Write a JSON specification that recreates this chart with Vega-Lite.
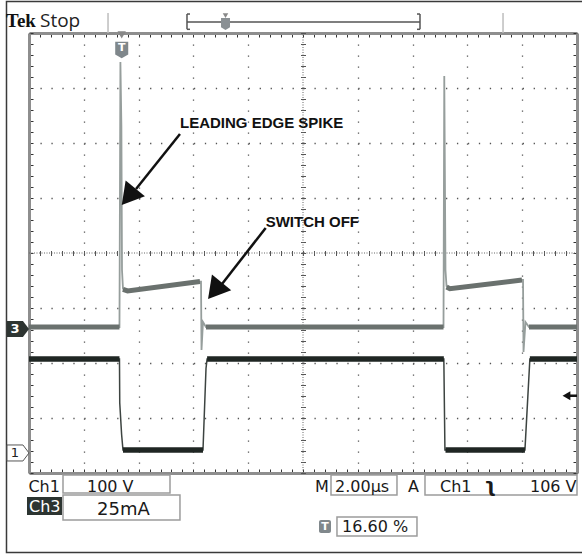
{
 "$schema":"https://vega.github.io/schema/vega-lite/v6.json",
 "width":548,"height":440,
 "autosize":{"type":"none"},
 "padding":{"left":29,"top":33,"right":5,"bottom":81},
 "background":"white",
 "config":{"view":{"stroke":null}},
 "encoding":{
   "x":{"field":"x","type":"quantitative","scale":{"domain":[0,10],"nice":false,"zero":false},"axis":null},
   "y":{"field":"y","type":"quantitative","scale":{"domain":[-4,4],"nice":false,"zero":false},"axis":null}
 },
 "layer":[
  {"data":{"values":[{"x":5,"y":-4,"x2":5,"y2":4},{"x":0,"y":0,"x2":10,"y2":0}]},
   "mark":{"type":"rule","color":"#666","strokeWidth":1,"strokeDash":[1,1.5]},
   "encoding":{"x2":{"field":"x2"},"y2":{"field":"y2"}}},
  {"data":{"values":[
    {"x":0,"y":-1.345},{"x":1.651,"y":-1.345},{"x":1.668,"y":3.473},{"x":1.686,"y":2.3},{"x":1.697,"y":-0.309},{"x":1.715,"y":-0.65},{"x":1.77,"y":-0.68},{"x":3.12,"y":-0.52},{"x":3.139,"y":-0.52},{"x":3.148,"y":-1.764},{"x":3.175,"y":-1.255},{"x":3.23,"y":-1.345},{"x":7.564,"y":-1.345},{"x":7.578,"y":3.218},{"x":7.6,"y":-0.309},{"x":7.619,"y":-0.6},{"x":7.664,"y":-0.64},{"x":8.996,"y":-0.49},{"x":9.015,"y":-0.49},{"x":9.024,"y":-1.8},{"x":9.06,"y":-1.255},{"x":9.124,"y":-1.345},{"x":10,"y":-1.345}]},
   "mark":{"type":"line","color":"#969e9c","strokeWidth":1.8},
   "encoding":{
    "x":{"field":"x","type":"quantitative","scale":{"domain":[0,10],"nice":false,"zero":false},
      "axis":{"orient":"bottom","values":[0,0.2,0.4,0.6,0.8,1,1.2,1.4,1.6,1.8,2,2.2,2.4,2.6,2.8,3,3.2,3.4,3.6,3.8,4,4.2,4.4,4.6,4.8,5,5.2,5.4,5.6,5.8,6,6.2,6.4,6.6,6.8,7,7.2,7.4,7.6,7.8,8,8.2,8.4,8.6,8.8,9,9.2,9.4,9.6,9.8,10],"labels":false,"title":null,"grid":false,"ticks":true,"tickSize":-4,"tickColor":"#333","tickWidth":1,"domain":true,"domainColor":"#8e8e8e","domainWidth":3}},
    "y":{"field":"y","type":"quantitative","scale":{"domain":[-4,4],"nice":false,"zero":false},
      "axis":{"orient":"left","values":[-4,-3.8,-3.6,-3.4,-3.2,-3,-2.8,-2.6,-2.4,-2.2,-2,-1.8,-1.6,-1.4,-1.2,-1,-0.8,-0.6,-0.4,-0.2,0,0.2,0.4,0.6,0.8,1,1.2,1.4,1.6,1.8,2,2.2,2.4,2.6,2.8,3,3.2,3.4,3.6,3.8,4],"labels":false,"title":null,"grid":false,"ticks":true,"tickSize":-4,"tickColor":"#333","tickWidth":1,"domain":true,"domainColor":"#8e8e8e","domainWidth":3}}}},
  {"data":{"values":[
    {"x":0,"y":-1.927},{"x":1.651,"y":-1.927},{"x":1.656,"y":-2.727},{"x":1.69,"y":-3.3},{"x":1.715,"y":-3.582},{"x":3.175,"y":-3.582},{"x":3.23,"y":-2.1},{"x":3.25,"y":-1.927},{"x":7.57,"y":-1.927},{"x":7.59,"y":-3.582},{"x":9.05,"y":-3.582},{"x":9.14,"y":-1.927},{"x":10,"y":-1.927}]},
   "mark":{"type":"line","color":"#3d4441","strokeWidth":1.5},
   "encoding":{
    "x":{"field":"x","type":"quantitative","scale":{"domain":[0,10],"nice":false,"zero":false},
      "axis":{"orient":"top","values":[0,0.2,0.4,0.6,0.8,1,1.2,1.4,1.6,1.8,2,2.2,2.4,2.6,2.8,3,3.2,3.4,3.6,3.8,4,4.2,4.4,4.6,4.8,5,5.2,5.4,5.6,5.8,6,6.2,6.4,6.6,6.8,7,7.2,7.4,7.6,7.8,8,8.2,8.4,8.6,8.8,9,9.2,9.4,9.6,9.8,10],"labels":false,"title":null,"grid":false,"ticks":true,"tickSize":-4,"tickColor":"#333","tickWidth":1,"domain":true,"domainColor":"#8e8e8e","domainWidth":3}},
    "y":{"field":"y","type":"quantitative","scale":{"domain":[-4,4],"nice":false,"zero":false},
      "axis":{"orient":"right","values":[-4,-3.8,-3.6,-3.4,-3.2,-3,-2.8,-2.6,-2.4,-2.2,-2,-1.8,-1.6,-1.4,-1.2,-1,-0.8,-0.6,-0.4,-0.2,0,0.2,0.4,0.6,0.8,1,1.2,1.4,1.6,1.8,2,2.2,2.4,2.6,2.8,3,3.2,3.4,3.6,3.8,4],"labels":false,"title":null,"grid":false,"ticks":true,"tickSize":-4,"tickColor":"#333","tickWidth":1,"domain":true,"domainColor":"#8e8e8e","domainWidth":3}}}},
  {"data":{"values":[
    {"x":0,"y":-1.345,"seg":"b1"},{"x":1.651,"y":-1.345,"seg":"b1"},
    {"x":1.715,"y":-0.66,"seg":"p1"},{"x":1.8,"y":-0.69,"seg":"p1"},{"x":3.12,"y":-0.52,"seg":"p1"},
    {"x":3.23,"y":-1.345,"seg":"b2"},{"x":7.564,"y":-1.345,"seg":"b2"},
    {"x":7.62,"y":-0.62,"seg":"p2"},{"x":7.68,"y":-0.65,"seg":"p2"},{"x":8.996,"y":-0.49,"seg":"p2"},
    {"x":9.124,"y":-1.345,"seg":"b3"},{"x":10,"y":-1.345,"seg":"b3"}]},
   "mark":{"type":"line","color":"#6a716e","strokeWidth":5},
   "encoding":{
    "detail":{"field":"seg"},
    "x":{"field":"x","type":"quantitative","scale":{"domain":[0,10],"nice":false,"zero":false},
      "axis":{"orient":"bottom","values":[1,2,3,4,6,7,8,9],"labels":false,"title":null,"ticks":false,"domain":false,"grid":true,"gridColor":"#555","gridWidth":1.3,"gridDash":[1.3,9.7]}},
    "y":{"field":"y","type":"quantitative","scale":{"domain":[-4,4],"nice":false,"zero":false},
      "axis":{"orient":"left","values":[-3,-2,-1,1,2,3],"labels":false,"title":null,"ticks":false,"domain":false,"grid":true,"gridColor":"#555","gridWidth":1.3,"gridDash":[1.3,9.66]}}}},
  {"data":{"values":[
    {"x":0,"y":-1.927,"seg":"h1"},{"x":1.651,"y":-1.927,"seg":"h1"},
    {"x":1.715,"y":-3.582,"seg":"l1"},{"x":3.175,"y":-3.582,"seg":"l1"},
    {"x":3.25,"y":-1.927,"seg":"h2"},{"x":7.57,"y":-1.927,"seg":"h2"},
    {"x":7.6,"y":-3.582,"seg":"l2"},{"x":9.05,"y":-3.582,"seg":"l2"},
    {"x":9.14,"y":-1.927,"seg":"h3"},{"x":10,"y":-1.927,"seg":"h3"}]},
   "mark":{"type":"line","color":"#1f2623","strokeWidth":5.5},
   "encoding":{
    "detail":{"field":"seg"},
    "x":{"field":"x","type":"quantitative","scale":{"domain":[0,10],"nice":false,"zero":false},
      "axis":{"orient":"bottom","offset":-222.5,"values":[0,0.2,0.4,0.6,0.8,1,1.2,1.4,1.6,1.8,2,2.2,2.4,2.6,2.8,3,3.2,3.4,3.6,3.8,4,4.2,4.4,4.6,4.8,5,5.2,5.4,5.6,5.8,6,6.2,6.4,6.6,6.8,7,7.2,7.4,7.6,7.8,8,8.2,8.4,8.6,8.8,9,9.2,9.4,9.6,9.8,10],"labels":false,"title":null,"grid":false,"ticks":true,"tickSize":5,"tickColor":"#555","tickWidth":1,"domain":false}},
    "y":{"field":"y","type":"quantitative","scale":{"domain":[-4,4],"nice":false,"zero":false},
      "axis":{"orient":"left","offset":-276.5,"values":[-4,-3.8,-3.6,-3.4,-3.2,-3,-2.8,-2.6,-2.4,-2.2,-2,-1.8,-1.6,-1.4,-1.2,-1,-0.8,-0.6,-0.4,-0.2,0,0.2,0.4,0.6,0.8,1,1.2,1.4,1.6,1.8,2,2.2,2.4,2.6,2.8,3,3.2,3.4,3.6,3.8,4],"labels":false,"title":null,"grid":false,"ticks":true,"tickSize":5,"tickColor":"#555","tickWidth":1,"domain":false}}}},
  {"data":{"values":[{"x":-0.4106,"x2":10.33,"y":4.5727,"y2":-5.4455}]},
   "mark":{"type":"rect","fill":"transparent","stroke":"#3a3a3a","strokeWidth":1.5},
   "encoding":{"x2":{"field":"x2"},"y2":{"field":"y2"}}},
  {"data":{"values":[
    {"x":0.6204,"x2":2.573,"y":-4.036,"y2":-4.364},
    {"x":0.6204,"x2":2.755,"y":-4.4,"y2":-4.855},
    {"x":5.511,"x2":6.715,"y":-4.036,"y2":-4.4},
    {"x":7.226,"x2":10.0,"y":-4.036,"y2":-4.4},
    {"x":5.62,"x2":7.08,"y":-4.8,"y2":-5.145}]},
   "mark":{"type":"rect","fill":"transparent","stroke":"#9c9c9c","strokeWidth":1.5},
   "encoding":{"x2":{"field":"x2"},"y2":{"field":"y2"}}},
  {"data":{"values":[{"x":-0.0365,"x2":0.602,"y":-4.436,"y2":-4.764}]},
   "mark":{"type":"rect","fill":"#2c3431"},
   "encoding":{"x2":{"field":"x2"},"y2":{"field":"y2"}}},
  {"data":{"values":[{"x":5.292,"x2":5.511,"y":-4.855,"y2":-5.091}]},
   "mark":{"type":"rect","fill":"#80888c","cornerRadius":2},
   "encoding":{"x2":{"field":"x2"},"y2":{"field":"y2"}}},
  {"data":{"values":[
    {"x":2.755,"y":2.164,"x2":1.953,"y2":1.164},
    {"x":4.319,"y":0.455,"x2":3.522,"y2":-0.564},
    {"x":9.83,"y":-2.595,"x2":10.0,"y2":-2.595}]},
   "mark":{"type":"rule","color":"#111","strokeWidth":2.5},
   "encoding":{"x2":{"field":"x2"},"y2":{"field":"y2"}}},
  {"data":{"values":[
    {"x":2.883,"y":4.2,"x2":7.135,"y2":4.2},
    {"x":2.883,"y":4.345,"x2":2.883,"y2":4.067},
    {"x":7.135,"y":4.345,"x2":7.135,"y2":4.067},
    {"x":2.883,"y":4.345,"x2":2.938,"y2":4.345},
    {"x":2.883,"y":4.067,"x2":2.938,"y2":4.067},
    {"x":7.08,"y":4.345,"x2":7.135,"y2":4.345},
    {"x":7.08,"y":4.067,"x2":7.135,"y2":4.067}]},
   "mark":{"type":"rule","color":"#555","strokeWidth":1.5},
   "encoding":{"x2":{"field":"x2"},"y2":{"field":"y2"}}},
  {"data":{"values":[
    {"x":1.442,"y":4.364,"x2":1.442,"y2":4.0},
    {"x":8.65,"y":4.364,"x2":8.65,"y2":4.0}]},
   "mark":{"type":"rule","color":"#bdbdbd","strokeWidth":1.5},
   "encoding":{"x2":{"field":"x2"},"y2":{"field":"y2"}}},
  {"data":{"values":[{"x":1.816,"y":1.024},{"x":3.391,"y":-0.685}]},
   "mark":{"type":"point","shape":"triangle-up","angle":219,"size":615,"filled":true,"fill":"#111","opacity":1,"strokeWidth":0}},
  {"data":{"values":[{"x":-0.2007,"y":-1.382}]},
   "mark":{"type":"point","shape":"M-1,-0.727L0.45,-0.727L1,0L0.45,0.727L-1,0.727Z","size":484,"filled":true,"fill":"#2e3532","opacity":1,"strokeWidth":0}},
  {"data":{"values":[{"x":-0.2007,"y":-3.636}]},
   "mark":{"type":"point","shape":"M-1,-0.727L0.45,-0.727L1,0L0.45,0.727L-1,0.727Z","size":484,"filled":false,"fill":"white","stroke":"#555","strokeWidth":1,"opacity":1}},
  {"data":{"values":[{"x":1.692,"y":3.691}]},
   "mark":{"type":"point","shape":"M-0.78,-1L0.78,-1L0.78,0.55L0,1L-0.78,0.55Z","size":279,"filled":true,"fill":"#7f878b","opacity":1,"strokeWidth":0}},
  {"data":{"values":[{"x":3.586,"y":4.164}]},
   "mark":{"type":"point","shape":"M-0.75,-1L0.75,-1L0.75,0.55L0,1L-0.75,0.55Z","size":144,"filled":true,"fill":"#8a9094","opacity":1,"strokeWidth":0}},
  {"data":{"values":[{"x":1.692,"y":3.964}]},
   "mark":{"type":"point","shape":"triangle-down","size":70,"filled":true,"fill":"#888","opacity":1,"strokeWidth":0}},
  {"data":{"values":[{"x":3.586,"y":4.318}]},
   "mark":{"type":"point","shape":"triangle-down","size":30,"filled":true,"fill":"#888","opacity":1,"strokeWidth":0}},
  {"data":{"values":[{"x":9.808,"y":-2.595}]},
   "mark":{"type":"point","shape":"triangle-left","size":81,"filled":true,"fill":"#111","opacity":1,"strokeWidth":0}},
  {"data":{"values":[{"x":-0.4197,"y":4.109,"text":"Tek"}]},
   "mark":{"type":"text","font":"Liberation Serif","fontWeight":"bold","fontSize":19,"align":"left","baseline":"alphabetic","color":"#111"},
   "encoding":{"text":{"field":"text"}}},
  {"data":{"values":[{"x":0.2,"y":4.109,"text":"Stop"}]},
   "mark":{"type":"text","font":"Open Sans","fontSize":19,"align":"left","baseline":"alphabetic","color":"#222"},
   "encoding":{"text":{"field":"text"}}},
  {"data":{"values":[
    {"x":-0.01,"y":-4.345,"text":"Ch1"},
    {"x":1.058,"y":-4.345,"text":"100 V"},
    {"x":5.219,"y":-4.345,"text":"M"},
    {"x":5.584,"y":-4.345,"text":"2.00µs"},
    {"x":6.916,"y":-4.345,"text":"A"},
    {"x":7.5,"y":-4.345,"text":"Ch1"},
    {"x":9.142,"y":-4.345,"text":"106 V"},
    {"x":5.712,"y":-5.067,"text":"16.60 %"}]},
   "mark":{"type":"text","font":"DejaVu Sans","fontSize":16,"align":"left","baseline":"alphabetic","color":"#1a1a1a"},
   "encoding":{"text":{"field":"text"}}},
  {"data":{"values":[{"x":8.31,"y":-4.345,"text":"ʅ"}]},
   "mark":{"type":"text","font":"DejaVu Sans","fontWeight":"bold","fontSize":19,"align":"left","baseline":"alphabetic","color":"#1a1a1a"},
   "encoding":{"text":{"field":"text"}}},
  {"data":{"values":[{"x":1.241,"y":-4.764,"text":"25mA"}]},
   "mark":{"type":"text","font":"DejaVu Sans","fontSize":18,"align":"left","baseline":"alphabetic","color":"#1a1a1a"},
   "encoding":{"text":{"field":"text"}}},
  {"data":{"values":[{"x":0.0,"y":-4.709,"text":"Ch3"}]},
   "mark":{"type":"text","font":"DejaVu Sans","fontSize":16,"align":"left","baseline":"alphabetic","color":"white"},
   "encoding":{"text":{"field":"text"}}},
  {"data":{"values":[{"x":2.755,"y":2.267,"text":"LEADING EDGE SPIKE"},{"x":4.319,"y":0.478,"text":"SWITCH OFF"}]},
   "mark":{"type":"text","font":"Liberation Sans","fontWeight":"bold","fontSize":15,"align":"left","baseline":"alphabetic","color":"#111"},
   "encoding":{"text":{"field":"text"}}},
  {"data":{"values":[{"x":-0.2555,"y":-1.382,"text":"3"}]},
   "mark":{"type":"text","font":"DejaVu Sans","fontWeight":"bold","fontSize":13,"align":"center","baseline":"middle","color":"white"},
   "encoding":{"text":{"field":"text"}}},
  {"data":{"values":[{"x":-0.2555,"y":-3.636,"text":"1"}]},
   "mark":{"type":"text","font":"DejaVu Sans","fontSize":13,"align":"center","baseline":"middle","color":"#222"},
   "encoding":{"text":{"field":"text"}}},
  {"data":{"values":[{"x":1.692,"y":3.72,"text":"T"},{"x":5.401,"y":-4.973,"text":"T"}]},
   "mark":{"type":"text","font":"DejaVu Sans","fontWeight":"bold","fontSize":11,"align":"center","baseline":"middle","color":"white"},
   "encoding":{"text":{"field":"text"}}}
 ],
 "resolve":{"axis":{"x":"independent","y":"independent"}}
}
